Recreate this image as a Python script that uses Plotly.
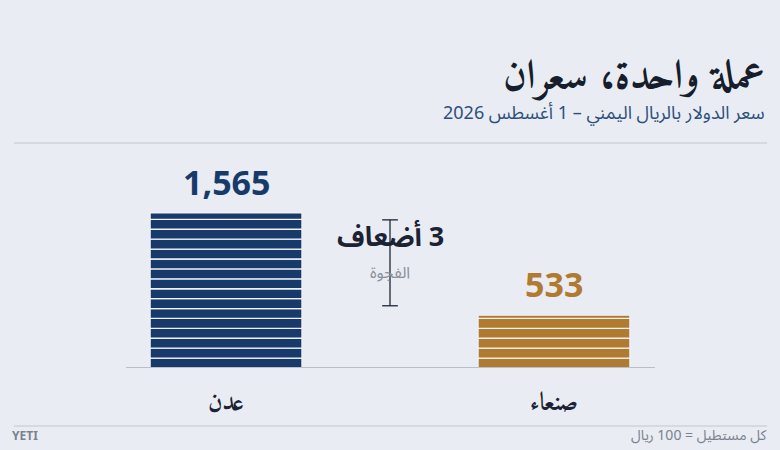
import plotly.graph_objects as go

# data
cities = ["عدن", "صنعاء"]
rates = [1565, 533]
bar_colors = ["#173a6b", "#b07a30"]
unit = 100  # one stripe = 100 rial

title = "عملة واحدة، سعران"
subtitle = "سعر الدولار بالريال اليمني – 1 أغسطس 2026"
note = "كل مستطيل = 100 ريال"
source = "YETI"
gap_label = "الفجوة"

BG = "#e9ecf2"
NASKH = "Amiri, Noto Naskh Arabic, serif"
SANS_AR = "Noto Sans Arabic, Noto Sans, sans-serif"
NUM_FONT = "Noto Sans, Open Sans, sans-serif"
RLM = "\u200f"

fig = go.Figure()

# each bar is a stack of 100-rial stripes
for city, rate, col in zip(cities, rates, bar_colors):
    bases, heights = [], []
    b = 0
    while b < rate:
        bases.append(b)
        heights.append(min(unit, rate - b))
        b += unit
    fig.add_trace(go.Bar(
        x=[city] * len(bases), y=heights, base=bases,
        width=0.463, marker=dict(color=col, line=dict(color="#eef1f6", width=1.3)),
        hoverinfo="skip", showlegend=False,
    ))

# value labels above bars
for city, rate, col in zip(cities, rates, bar_colors):
    fig.add_annotation(x=city, y=rate, text=f"<b>{rate:,}</b>", showarrow=False,
                       yanchor="bottom", yshift=6,
                       font=dict(family=NUM_FONT, size=34, color=col))

# gap bracket between the two bars
top, bot = rates[0] - 70, rates[1] + 95
fig.add_shape(type="line", x0=0.5, x1=0.5, y0=bot, y1=top, line=dict(color="#1c2638", width=1.3))
for yy in (top, bot):
    fig.add_shape(type="line", x0=0.476, x1=0.524, y0=yy, y1=yy, line=dict(color="#1c2638", width=1.3))
ratio = round(rates[0] / rates[1])
fig.add_annotation(x=0.5, y=1313, text=f"<b>{RLM}{ratio} أضعاف</b>", showarrow=False,
                   font=dict(family=SANS_AR, size=27, color="#1a2233"))
fig.add_annotation(x=0.5, y=960, text=gap_label, showarrow=False,
                   font=dict(family=SANS_AR, size=16, color="#8a909a"))

# baseline
fig.add_shape(type="line", xref="paper", yref="y", x0=0, x1=1, y0=0, y1=0,
              line=dict(color="#b8c0cc", width=2))

# category labels
for city in cities:
    fig.add_annotation(x=city, y=0, text=f"<b>{city}</b>", showarrow=False,
                       yanchor="middle", yshift=-36,
                       font=dict(family=NASKH, size=25, color="#1a2233"))

# header / footer (paper coords: plot area is 529 x 218 px)
fig.add_annotation(xref="paper", yref="paper", x=1.212, y=1.33, text=f"<b>{title}</b>",
                   showarrow=False, xanchor="right", yanchor="middle",
                   font=dict(family=NASKH, size=41, color="#161d2c"))
fig.add_annotation(xref="paper", yref="paper", x=1.212, y=1.172, text=subtitle,
                   showarrow=False, xanchor="right", yanchor="middle",
                   font=dict(family=SANS_AR, size=18, color="#2d4f7c"))
fig.add_shape(type="line", xref="paper", yref="paper", x0=-0.212, x1=1.212, y0=1.032, y1=1.032,
              line=dict(color="#c2c8d2", width=1.2))
fig.add_shape(type="line", xref="paper", yref="paper", x0=-0.212, x1=1.212, y0=-0.266, y1=-0.266,
              line=dict(color="#c2c8d2", width=1.2))
fig.add_annotation(xref="paper", yref="paper", x=-0.22, y=-0.31, text=f"<b>{source}</b>",
                   showarrow=False, xanchor="left", yanchor="middle",
                   font=dict(family=NUM_FONT, size=12, color="#7a8290"))
fig.add_annotation(xref="paper", yref="paper", x=1.214, y=-0.31, text=note,
                   showarrow=False, xanchor="right", yanchor="middle",
                   font=dict(family=SANS_AR, size=14, color="#7a8290"))

fig.update_layout(
    width=780, height=450,
    margin=dict(l=126, r=125, t=150, b=82),
    paper_bgcolor=BG, plot_bgcolor=BG,
    barmode="overlay",
    xaxis=dict(range=[-0.305, 1.308], showgrid=False, showticklabels=False, zeroline=False,
               showline=False, fixedrange=True),
    yaxis=dict(range=[0, 2200], showgrid=False, showticklabels=False, zeroline=False,
               showline=False, fixedrange=True),
)

fig.write_html("out.html", config={"displayModeBar": False},
               post_script="document.body.style.margin='0';")
